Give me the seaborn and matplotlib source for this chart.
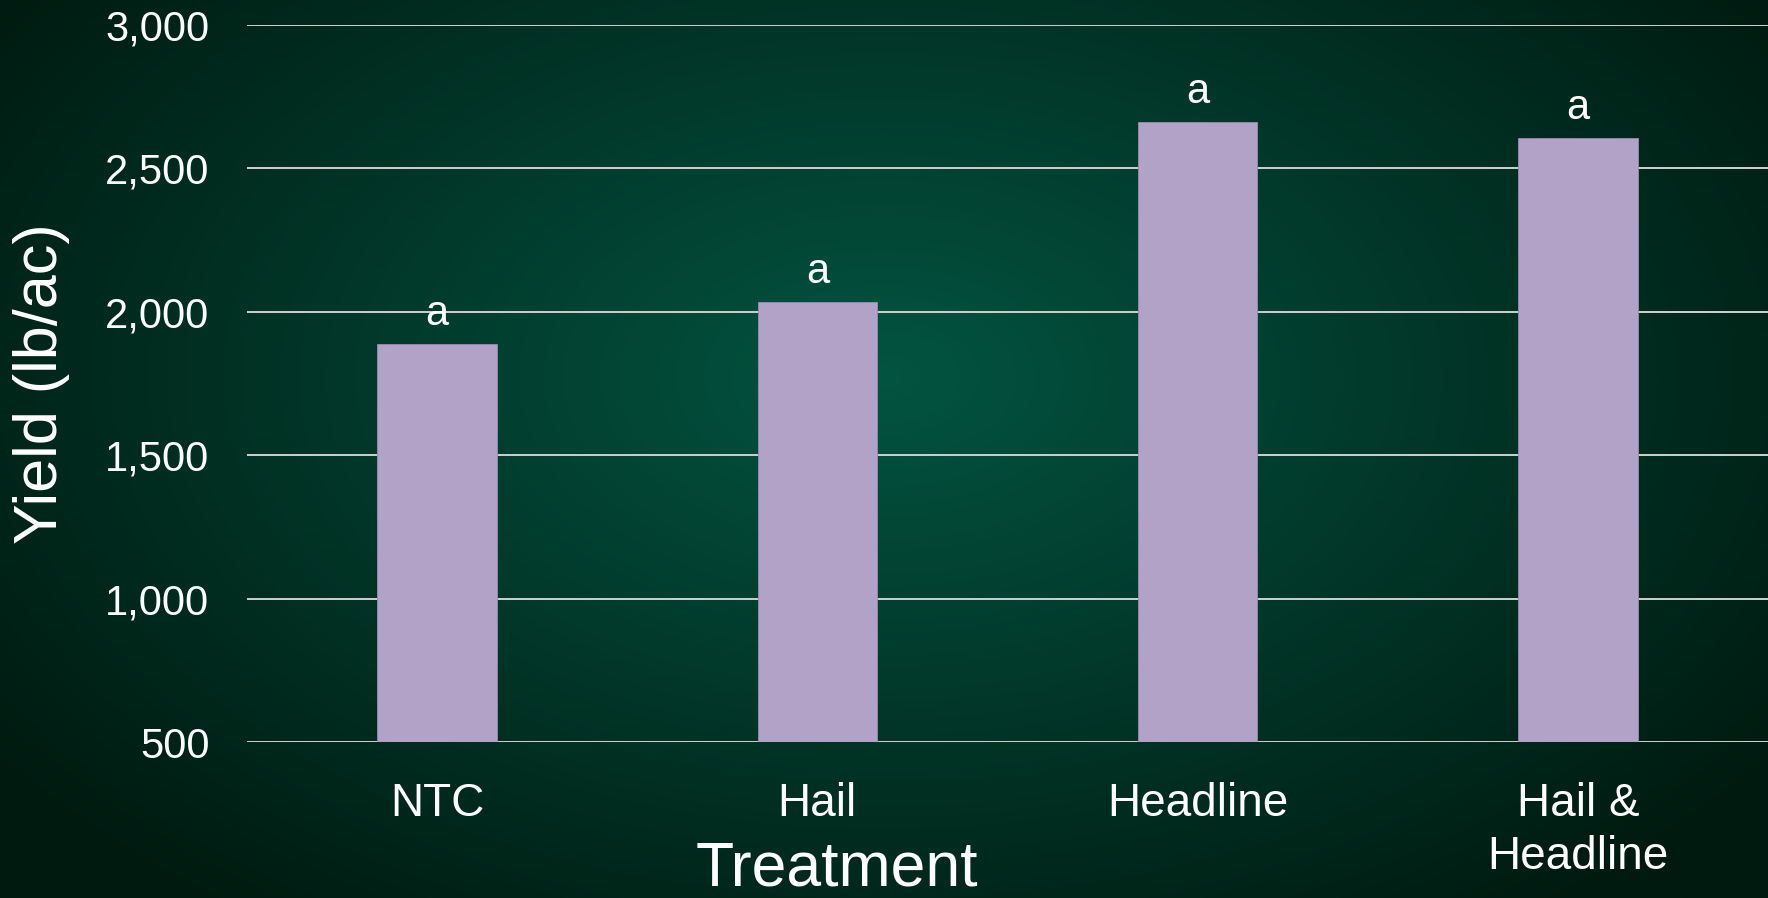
import numpy as np
import pandas as pd
import matplotlib
matplotlib.use("Agg")
import matplotlib.pyplot as plt
from matplotlib.ticker import FuncFormatter
import seaborn as sns

# Data
treatments = ["NTC", "Hail", "Headline", "Hail &\nHeadline"]
yields = [1888, 2034, 2662, 2607]
letters = ["a", "a", "a", "a"]

# Colors
BAR_COLOR = "#B3A2C7"
GRID_COLOR = "#D0D0D0"
BG_CENTER = np.array([3, 84, 65]) / 255
BG_EDGE = np.array([0, 26, 16]) / 255

sns.set_theme(style="white")
plt.rcParams["font.family"] = ["Liberation Sans", "DejaVu Sans"]

fig = plt.figure(figsize=(17.68, 8.98), dpi=100)

# radial green backdrop
bg = fig.add_axes([0, 0, 1, 1], zorder=0)
yy, xx = np.mgrid[0:1:300j, 0:1:600j]
r = np.sqrt(((xx - 0.5) / 0.62) ** 2 + ((yy - 0.42) / 0.75) ** 2)
r = np.clip(r, 0, 1)[..., None]
img = BG_CENTER * (1 - r) + BG_EDGE * r
bg.imshow(img, aspect="auto", extent=[0, 1, 0, 1], origin="upper")
bg.axis("off")

ax = fig.add_axes([0.1397, 0.1737, 0.8603, 0.7987], zorder=1)
ax.patch.set_alpha(0)

df = pd.DataFrame({"Treatment": treatments, "Yield": yields})
sns.barplot(data=df, x="Treatment", y="Yield", color=BAR_COLOR, saturation=1,
            width=0.314, edgecolor="#9A8CAE", linewidth=0.6, ax=ax, zorder=2)

ax.bar_label(ax.containers[0], labels=letters, padding=7, fontsize=30, color="white")

ax.set_ylim(500, 3000)
ax.set_xlim(-0.5, 3.5)
ax.set_yticks(range(500, 3001, 500))
ax.yaxis.set_major_formatter(FuncFormatter(lambda v, p: f"{int(v):,}"))
ax.grid(axis="y", color=GRID_COLOR, linewidth=1.4)
ax.set_axisbelow(True)
for s in ax.spines.values():
    s.set_visible(False)

ax.tick_params(axis="x", length=0, pad=29, labelsize=33, colors="white")
ax.tick_params(axis="y", length=0, pad=27, labelsize=30, colors="white")
for t in ax.get_xticklabels():
    t.set_linespacing(1.25)

ax.set_ylabel("Yield (lb/ac)", fontsize=44, color="white", va="center")
ax.yaxis.set_label_coords(-0.135, 0.5)
ax.set_xlabel("Treatment", fontsize=45, color="white", va="top")
ax.xaxis.set_label_coords(0.388, -0.136)

fig.savefig("out.png", dpi=100)
